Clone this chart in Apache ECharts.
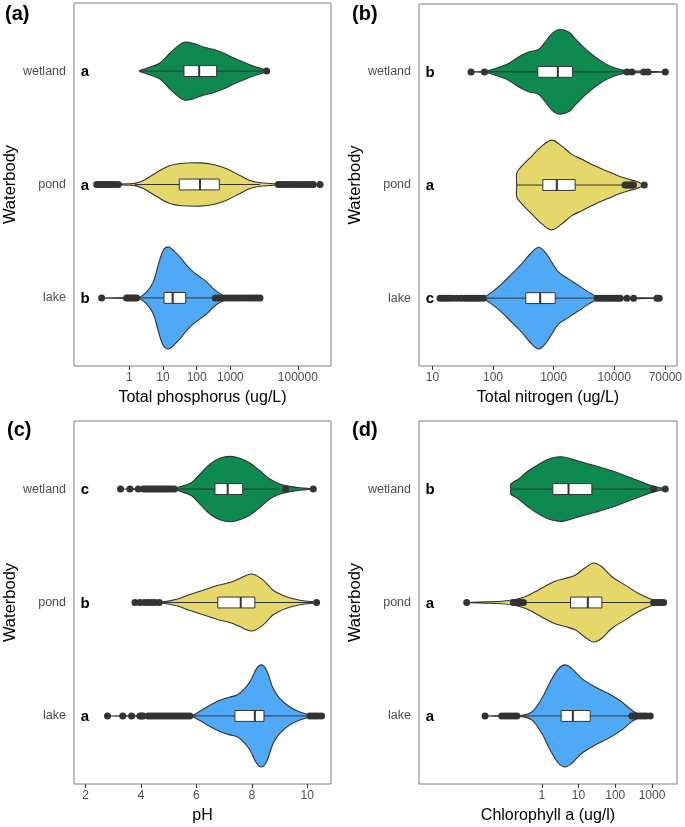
<!DOCTYPE html>
<html><head><meta charset="utf-8">
<script src="https://cdn.jsdelivr.net/npm/echarts@6/dist/echarts.min.js"></script>
<style>html,body{margin:0;padding:0;background:#fff}#c{width:685px;height:827px}</style>
</head><body><div id="c"></div><script>
// categories (bottom to top)
const groups = ['lake', 'pond', 'wetland'];
const groupColors = ['#4FA9F7', '#E6D76B', '#0E8A50'];

// tick labels
const tpTicks = [1, 10, 100, 1000, 100000];
const tnTicks = [10, 100, 1000, 10000, 70000];
const phTicks = [2, 4, 6, 8, 10];
const chlTicks = [1, 10, 100, 1000];

// significance letters (lake, pond, wetland)
const tpLetters = ['b', 'a', 'a'];
const tnLetters = ['c', 'a', 'b'];
const phLetters = ['a', 'b', 'c'];
const chlLetters = ['a', 'a', 'b'];

// violin outlines: [axis position (log10 value for TP, TN, Chl a; pH as is), half width in category units]
const tpLakeProfile = [[-0.82,0],[0.0,0.004],[0.318,0.009],[0.515,0.053],[0.713,0.141],[0.861,0.291],[1.010,0.420],[1.158,0.450],[1.307,0.420],[1.504,0.361],[1.702,0.288],[1.900,0.229],[2.098,0.185],[2.296,0.141],[2.493,0.082],[2.691,0.038],[2.889,0.015],[3.3,0.005],[3.878,0]];
const tpPondProfile = [[-0.967,0],[-0.5,0.004],[0.0,0.006],[0.170,0.01],[0.417,0.035],[0.813,0.106],[1.208,0.167],[1.603,0.188],[2.097,0.191],[2.493,0.176],[2.889,0.138],[3.284,0.079],[3.581,0.035],[3.878,0.015],[4.3,0.006],[5.0,0.004],[5.66,0]];
const tpWetlandProfile = [[0.298,0],[0.515,0.024],[0.911,0.071],[1.208,0.159],[1.504,0.235],[1.653,0.256],[1.900,0.244],[2.197,0.212],[2.493,0.191],[2.790,0.159],[3.087,0.117],[3.384,0.079],[3.680,0.044],[3.977,0.015],[4.076,0]];

const tnLakeProfile = [[1.126,0],[1.6,0.004],[1.843,0.009],[1.980,0.053],[2.145,0.126],[2.311,0.214],[2.476,0.302],[2.613,0.390],[2.752,0.450],[2.861,0.406],[2.972,0.317],[3.083,0.229],[3.248,0.170],[3.413,0.112],[3.579,0.053],[3.716,0.018],[4.2,0.005],[4.745,0]];
const tnPondProfile = [[2.393,0.108],[2.476,0.167],[2.641,0.256],[2.807,0.344],[2.972,0.397],[3.137,0.344],[3.302,0.271],[3.468,0.227],[3.688,0.167],[3.909,0.117],[4.074,0.079],[4.240,0.050],[4.349,0.035],[4.459,0.011],[4.497,0]];
const tnWetlandProfile = [[1.638,0],[1.87,0.006],[2.035,0.029],[2.256,0.073],[2.421,0.132],[2.587,0.176],[2.752,0.197],[2.861,0.264],[2.972,0.338],[3.083,0.373],[3.248,0.353],[3.357,0.294],[3.522,0.205],[3.688,0.132],[3.853,0.073],[4.018,0.035],[4.183,0.015],[4.5,0.006],[4.845,0]];

const phLakeProfile = [[2.79,0],[4.5,0.004],[5.83,0.006],[6.126,0.041],[6.487,0.094],[6.848,0.138],[7.209,0.167],[7.450,0.182],[7.690,0.227],[7.931,0.300],[8.172,0.417],[8.352,0.450],[8.533,0.403],[8.773,0.241],[9.014,0.153],[9.375,0.079],[9.736,0.035],[10.097,0.011],[10.52,0]];
const phPondProfile = [[3.78,0],[4.3,0.004],[4.80,0.006],[5.285,0.029],[5.765,0.071],[6.245,0.108],[6.729,0.147],[7.209,0.176],[7.570,0.212],[7.812,0.241],[8.051,0.249],[8.412,0.197],[8.773,0.108],[9.256,0.050],[9.736,0.020],[10.217,0.006],[10.34,0]];
const phWetlandProfile = [[3.26,0],[4.3,0.005],[5.224,0.011],[5.524,0.029],[5.827,0.059],[6.126,0.132],[6.487,0.220],[6.848,0.271],[7.209,0.288],[7.570,0.271],[7.931,0.229],[8.292,0.161],[8.653,0.088],[9.014,0.044],[9.375,0.024],[9.736,0.011],[10.217,0]];

const chlLakeProfile = [[-1.544,0],[-1.0,0.004],[-0.545,0.006],[-0.272,0.035],[0.0,0.153],[0.227,0.300],[0.454,0.417],[0.635,0.450],[0.817,0.417],[1.090,0.329],[1.453,0.256],[1.817,0.197],[2.180,0.123],[2.452,0.050],[2.7,0.006],[2.951,0]];
const chlPondProfile = [[-2.044,0],[-1.090,0.011],[-0.726,0.026],[-0.454,0.050],[-0.183,0.094],[0.090,0.144],[0.362,0.188],[0.635,0.212],[0.907,0.241],[1.180,0.306],[1.408,0.348],[1.635,0.315],[1.907,0.227],[2.271,0.153],[2.634,0.079],[2.997,0.026],[3.316,0]];
const chlWetlandProfile = [[-0.845,0.044],[-0.636,0.088],[-0.363,0.161],[0.0,0.235],[0.272,0.273],[0.545,0.285],[0.817,0.264],[1.181,0.229],[1.544,0.197],[1.907,0.161],[2.271,0.117],[2.634,0.073],[2.997,0.029],[3.27,0.009],[3.36,0]];

// box stats [lower whisker, Q1, median, Q3, upper whisker] for lake, pond, wetland
const tpBoxes = [[0.318,1.03,1.288,1.674,2.543],[0.17,1.484,2.098,2.671,3.878],[0.298,1.623,2.074,2.593,3.977]];
const tnBoxes = [[1.843,2.542,2.779,3.027,3.716],[2.393,2.823,3.054,3.357,4.18],[1.87,2.740,3.071,3.314,4.18]];
const phBoxes = [[5.83,7.39,8.11,8.44,10.0],[4.80,6.77,7.60,8.11,10.2],[5.22,6.67,7.13,7.67,9.0]];
const chlBoxes = [[-0.545,0.527,0.845,1.317,2.45],[-0.5,0.781,1.253,1.635,3.0],[-0.845,0.300,0.727,1.362,3.0]];

// outliers (same axis units) for lake, pond, wetland
const tpOutliers = [
  [-0.82,-0.08,-0.02,0.04,0.1,0.16,0.22,2.55,2.64,2.73,2.82,2.91,3.0,3.09,3.18,3.27,3.36,3.45,3.54,3.63,3.72,3.80,3.878],
  [-0.967,-0.9,-0.83,-0.76,-0.69,-0.62,-0.55,-0.48,-0.41,-0.326,4.42,4.5,4.58,4.66,4.74,4.82,4.9,4.98,5.06,5.14,5.22,5.3,5.38,5.46,5.66],
  [4.076]
];
const tnOutliers = [
  [1.126,1.17,1.22,1.27,1.33,1.40,1.47,1.53,1.58,1.63,1.68,1.73,1.78,1.843,3.72,3.77,3.82,3.87,3.92,3.97,4.02,4.06,4.101,4.212,4.322,4.707,4.745],
  [4.18,4.21,4.24,4.27,4.30,4.32,4.497],
  [1.638,1.859,4.212,4.294,4.488,4.559,4.845]
];
const phOutliers = [
  [2.79,3.34,3.66,3.96,4.02,4.08,4.26,4.36,4.46,4.56,4.66,4.76,4.86,4.96,5.06,5.16,5.26,5.36,5.46,5.56,5.66,5.76,10.10,10.2,10.3,10.4,10.52],
  [3.78,3.96,4.12,4.26,4.38,4.50,4.66,10.34],
  [3.26,3.60,3.90,4.08,4.16,4.24,4.32,4.40,4.48,4.56,4.64,4.72,4.80,4.88,4.96,5.04,5.12,5.20,9.22,10.22]
];
const chlOutliers = [
  [-1.544,-1.09,-1.0,-0.92,-0.84,-0.76,-0.681,2.452,2.52,2.6,2.68,2.76,2.84,2.951],
  [-2.044,-0.772,-0.70,-0.63,-0.56,-0.499,3.043,3.12,3.2,3.26,3.316],
  [3.043,3.36]
];

const FONT = 'Liberation Sans, Arial, Helvetica, sans-serif';
const panels = [
  {tag:'(a)', tagPos:[5,4], grid:{left:74, top:3, width:257, height:363}, min:-1.64, max:5.985, ticks:tpTicks, log:true,
   title:'Total phosphorus (ug/L)', profiles:[tpLakeProfile,tpPondProfile,tpWetlandProfile], boxes:tpBoxes, outliers:tpOutliers, letters:tpLetters},
  {tag:'(b)', tagPos:[352,4], grid:{left:419, top:4, width:258, height:362}, min:0.779, max:5.038, ticks:tnTicks, log:true,
   title:'Total nitrogen (ug/L)', profiles:[tnLakeProfile,tnPondProfile,tnWetlandProfile], boxes:tnBoxes, outliers:tnOutliers, letters:tnLetters},
  {tag:'(c)', tagPos:[7,420], grid:{left:74, top:421, width:257, height:363}, min:1.58, max:10.86, ticks:phTicks, log:false,
   title:'pH', profiles:[phLakeProfile,phPondProfile,phWetlandProfile], boxes:phBoxes, outliers:phOutliers, letters:phLetters},
  {tag:'(d)', tagPos:[352,420], grid:{left:419, top:421, width:258, height:363}, min:-3.343, max:3.68, ticks:chlTicks, log:true,
   title:'Chlorophyll a (ug/l)', profiles:[chlLakeProfile,chlPondProfile,chlWetlandProfile], boxes:chlBoxes, outliers:chlOutliers, letters:chlLetters}
];

const grids = [], xAxes = [], yAxes = [], series = [], graphics = [];
panels.forEach((P, pi) => {
  grids.push(Object.assign({show:true, borderColor:'#7f7f7f', borderWidth:1, backgroundColor:'#fff'}, P.grid));
  const pos = P.ticks.map(t => P.log ? Math.log10(t) : t);
  xAxes.push({
    gridIndex: pi, type:'value', min:P.min, max:P.max,
    axisLine:{show:false}, splitLine:{show:false},
    axisTick:{show:true, length:4, lineStyle:{color:'#333'}, customValues:pos},
    axisLabel:{customValues:pos, color:'#4d4d4d', fontSize:12, margin:6, fontFamily:FONT,
      formatter: v => { const k = pos.findIndex(p => Math.abs(p - v) < 1e-6); return k >= 0 ? String(P.ticks[k]) : ''; }},
    name:P.title, nameLocation:'middle', nameGap:24,
    nameTextStyle:{fontSize:16, color:'#000', fontFamily:FONT}
  });
  yAxes.push({
    gridIndex: pi, type:'value', min:0.4, max:3.6,
    axisLine:{show:false}, splitLine:{show:false},
    axisTick:{show:false},
    axisLabel:{customValues:[1,2,3], color:'#4d4d4d', fontSize:12.5, margin:8, fontFamily:FONT,
      formatter: v => groups[Math.round(v) - 1] || ''},
    name:'Waterbody', nameLocation:'middle', nameGap:50,
    nameTextStyle:{fontSize:16.5, color:'#000', fontFamily:FONT}
  });
  series.push({
    type:'custom', xAxisIndex:pi, yAxisIndex:pi, z:2,
    data: groups.map((g, i) => [P.boxes[i][2], i + 1]),
    encode:{x:0, y:1},
    renderItem: (params, api) => {
      const i = params.dataIndex, c = i + 1;
      const prof = P.profiles[i];
      const last = prof[prof.length - 1];
      const pts = prof.map(p => api.coord([p[0], c + p[1]]));
      if (last[1] > 0) pts.push(api.coord([last[0], c]));
      prof.slice().reverse().filter(p => p[1] > 0).forEach(p => pts.push(api.coord([p[0], c - p[1]])));
      if (prof[0][1] > 0) pts.push(api.coord([prof[0][0], c]));
      const b = P.boxes[i];
      const wl = api.coord([b[0], c]), wh = api.coord([b[4], c]);
      const q1t = api.coord([b[1], c + 0.048]), q3b = api.coord([b[3], c - 0.048]);
      const mt = api.coord([b[2], c + 0.048]), mb = api.coord([b[2], c - 0.048]);
      const lp = api.coord([P.min, c]);
      return {type:'group', children:[
        {type:'polygon', shape:{points: pts, smooth:0.35},
         style:{fill:groupColors[i], stroke:'#333', lineWidth:1.1}},
        {type:'line', shape:{x1:wl[0], y1:wl[1], x2:wh[0], y2:wh[1]}, style:{stroke:'#333', lineWidth:1}},
        {type:'rect', shape:{x:q1t[0], y:q1t[1], width:q3b[0]-q1t[0], height:q3b[1]-q1t[1]},
         style:{fill:'#fff', stroke:'#333', lineWidth:1}},
        {type:'line', shape:{x1:mt[0], y1:mt[1], x2:mb[0], y2:mb[1]}, style:{stroke:'#333', lineWidth:2}},
        {type:'text', x: lp[0] + 11, y: lp[1] + 1,
         style:{text:P.letters[i], fill:'#000', font:'bold 15px ' + FONT, align:'center', verticalAlign:'middle'}}
      ]};
    }
  });
  const pts = [];
  P.outliers.forEach((arr, i) => arr.forEach(v => pts.push([v, i + 1])));
  series.push({
    type:'scatter', xAxisIndex:pi, yAxisIndex:pi, z:3, symbol:'circle', symbolSize:7,
    itemStyle:{color:'#333', opacity:1}, data: pts
  });
  graphics.push({type:'text', left:P.tagPos[0], top:P.tagPos[1],
    style:{text:P.tag, fill:'#000', font:'bold 20px ' + FONT}});
});

const chart = echarts.init(document.getElementById('c'), null, {renderer:'canvas'});
chart.setOption({
  animation:false,
  backgroundColor:'#fff',
  textStyle:{fontFamily:FONT},
  grid: grids, xAxis: xAxes, yAxis: yAxes, series: series, graphic: graphics
});
</script></body></html>
